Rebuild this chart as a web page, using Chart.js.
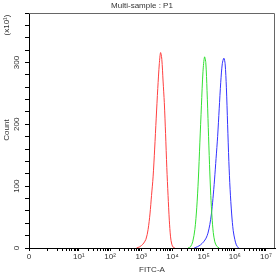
<!DOCTYPE html>
<html lang="en">
<head>
  <meta charset="UTF-8">
  <title>Multi-sample : P1</title>
  <script src="https://cdn.jsdelivr.net/npm/chart.js"></script>
  <style>
    body { margin: 0; background: #fff; }
    .wrap { width: 280px; height: 275px; position: relative; }
  </style>
</head>
<body>
  <div class="wrap"><canvas id="histChart"></canvas></div>

  <script>
    // x values are positions on the logicle axis, in decades (10^d -> d, "0" -> -0.6)
    const redX   = [2.85, 2.95, 3.05, 3.15, 3.22, 3.28, 3.33, 3.38, 3.43, 3.48, 3.53, 3.58, 3.62, 3.66, 3.70, 3.74, 3.78, 3.82, 3.86, 3.90, 3.94, 3.98, 4.03, 4.08];
    const redY   = [0, 2, 6, 14, 30, 55, 85, 115, 160, 210, 258, 298, 316, 305, 270, 235, 185, 130, 85, 45, 18, 6, 1, 0];

    const greenX = [4.50, 4.58, 4.65, 4.72, 4.78, 4.83, 4.88, 4.93, 4.98, 5.03, 5.07, 5.11, 5.15, 5.19, 5.23, 5.27, 5.31, 5.36, 5.42, 5.50];
    const greenY = [0, 2, 10, 30, 65, 110, 170, 230, 285, 309, 300, 255, 195, 135, 85, 50, 25, 10, 3, 0];

    const blueX  = [4.70, 4.80, 4.90, 5.00, 5.08, 5.14, 5.20, 5.25, 5.30, 5.35, 5.40, 5.45, 5.50, 5.55, 5.60, 5.65, 5.69, 5.73, 5.77, 5.81, 5.85, 5.90, 5.95, 6.00, 6.05, 6.12];
    const blueY  = [0, 2, 5, 10, 16, 24, 38, 55, 80, 110, 145, 180, 225, 268, 298, 307, 298, 260, 200, 140, 95, 55, 28, 14, 5, 0];

    const xMajor = [-0.6, 1, 2, 3, 4, 5, 6, 7];
    const xMajorLabels = ['0', '10¹', '10²', '10³', '10⁴', '10⁵', '10⁶', '10⁷'];
    const yLabels = [0, 100, 200, 300];

    const FONT = 'Liberation Sans, Arial, sans-serif';

    // minor log ticks 1..9 x 10^d
    const xMinor = [];
    for (let d = 0; d < 7; d++) {
      for (let k = 1; k < 10; k++) {
        if (k === 1 && d > 0) continue;
        xMinor.push(d + Math.log10(k));
      }
    }

    const pts = (xs, ys) => xs.map((x, i) => ({ x: x, y: ys[i] }));

    const decor = {
      id: 'decor',
      afterDraw(chart) {
        const c = chart.ctx;
        const a = chart.chartArea;
        const ys = chart.scales.y;
        c.save();
        // frame top/right
        c.strokeStyle = '#666';
        c.lineWidth = 1;
        c.beginPath();
        c.moveTo(a.left, a.top + 0.5);
        c.lineTo(a.right - 0.5, a.top + 0.5);
        c.lineTo(a.right - 0.5, a.bottom);
        c.stroke();

        c.fillStyle = '#333';
        c.font = '8px ' + FONT;
        c.textAlign = 'center';
        c.textBaseline = 'middle';
        c.fillText('Multi-sample : P1', 142, 6);

        // rotated y labels
        yLabels.forEach(v => {
          c.save();
          c.translate(17, ys.getPixelForValue(v));
          c.rotate(-Math.PI / 2);
          c.fillText(String(v), 0, 0);
          c.restore();
        });
        c.save();
        c.translate(7, 130);
        c.rotate(-Math.PI / 2);
        c.fillText('Count', 0, 0);
        c.restore();
        c.save();
        c.translate(7, 25);
        c.rotate(-Math.PI / 2);
        c.fillText('(x10¹)', 0, 0);
        c.restore();
        c.restore();
      }
    };

    const line = (data, color) => ({
      data: data,
      borderColor: color,
      borderWidth: 1,
      pointRadius: 0,
      fill: false,
      tension: 0.3
    });

    new Chart(document.getElementById('histChart'), {
      type: 'line',
      data: {
        datasets: [
          line(pts(redX, redY), '#ff4040'),
          line(pts(greenX, greenY), '#33e033'),
          line(pts(blueX, blueY), '#3333ff')
        ]
      },
      options: {
        responsive: true,
        maintainAspectRatio: false,
        animation: false,
        layout: { padding: { top: 13, right: 5, left: 0, bottom: 0 } },
        plugins: { legend: { display: false }, tooltip: { enabled: false } },
        scales: {
          x: {
            type: 'linear',
            min: -0.6,
            max: 7.29,
            afterFit: s => { s.height = 27; },
            afterBuildTicks: s => {
              const all = xMinor.concat(xMajor);
              s.ticks = all.sort((p, q) => p - q).map(v => ({ value: v }));
            },
            ticks: {
              autoSkip: false,
              maxRotation: 0,
              padding: 1,
              color: '#333',
              font: { family: FONT, size: 8 },
              callback: v => {
                const i = xMajor.findIndex(m => Math.abs(m - v) < 1e-6);
                return i >= 0 ? xMajorLabels[i] : '';
              }
            },
            grid: { drawOnChartArea: false, drawTicks: true, tickLength: 3, color: '#000' },
            border: { display: true, color: '#000' },
            title: { display: true, text: 'FITC-A', color: '#333', font: { family: FONT, size: 8 }, padding: 0 }
          },
          y: {
            min: 0,
            max: 380,
            afterFit: s => { s.width = 29; },
            ticks: { stepSize: 20, display: false },
            grid: { drawOnChartArea: false, drawTicks: true, tickLength: 4, color: '#000' },
            border: { display: true, color: '#000' }
          }
        }
      },
      plugins: [decor]
    });
  </script>
</body>
</html>
